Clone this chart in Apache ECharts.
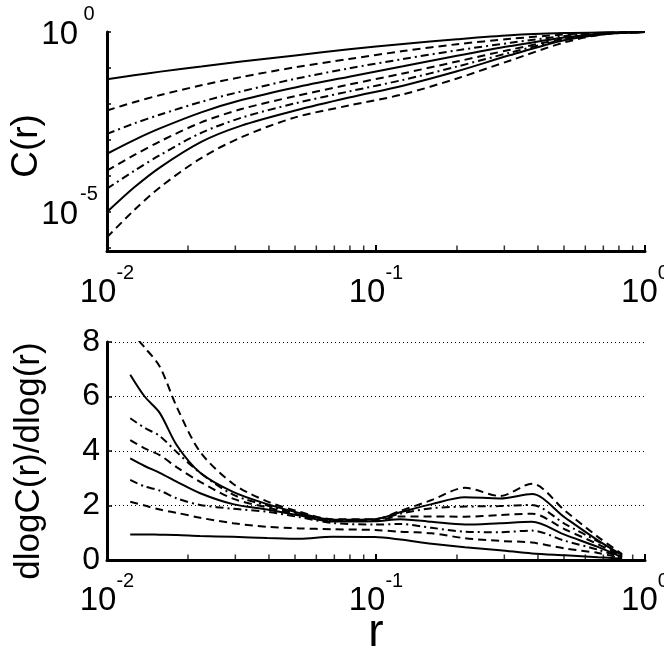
<!DOCTYPE html>
<html>
<head>
<meta charset="utf-8">
<script src="https://cdn.jsdelivr.net/npm/echarts@6/dist/echarts.min.js"></script>
<style>
  html, body { margin: 0; padding: 0; background: #fff; }
  #chart { width: 664px; height: 655px; }
</style>
</head>
<body>
<div id="chart"></div>
<script>
// top panel: r and log10 C(r), one array per curve (top to bottom)
var rTop = [0.01, 0.0126, 0.0158, 0.0224, 0.0316, 0.0501, 0.0794, 0.126, 0.2, 0.316, 0.501, 0.708, 1];
var logC1 = [-1.31, -1.20, -1.10, -0.96, -0.82, -0.65, -0.48, -0.33, -0.20, -0.09, -0.03, -0.01, 0];
var logC2 = [-2.18, -1.95, -1.75, -1.48, -1.25, -0.98, -0.75, -0.53, -0.34, -0.19, -0.07, -0.02, 0];
var logC3 = [-2.83, -2.54, -2.29, -1.94, -1.65, -1.30, -1.01, -0.75, -0.51, -0.30, -0.11, -0.03, 0];
var logC4 = [-3.38, -3.00, -2.67, -2.23, -1.89, -1.54, -1.24, -0.95, -0.66, -0.39, -0.15, -0.04, 0];
var logC5 = [-3.85, -3.42, -3.03, -2.51, -2.14, -1.78, -1.46, -1.15, -0.82, -0.49, -0.19, -0.05, 0];
var logC6 = [-4.35, -3.86, -3.41, -2.80, -2.38, -1.98, -1.65, -1.33, -0.96, -0.57, -0.21, -0.05, 0];
var logC7 = [-5.00, -4.32, -3.75, -3.05, -2.60, -2.18, -1.82, -1.49, -1.09, -0.64, -0.23, -0.06, 0];
var logC8 = [-5.70, -4.95, -4.30, -3.50, -2.92, -2.37, -2.04, -1.73, -1.29, -0.79, -0.29, -0.06, 0];

// bottom panel: r and local slope dlogC/dlogr
var rBot = [0.0122, 0.0138, 0.0157, 0.0182, 0.0222, 0.0294, 0.0394, 0.0521, 0.0686, 0.099, 0.123, 0.161, 0.214, 0.289, 0.38, 0.505, 0.668, 0.822];
var slope1 = [0.94, 0.94, 0.93, 0.92, 0.88, 0.85, 0.81, 0.78, 0.85, 0.84, 0.75, 0.60, 0.47, 0.36, 0.24, 0.17, 0.10, 0.05];
var slope2 = [2.14, 2.00, 1.85, 1.73, 1.55, 1.35, 1.22, 1.16, 1.13, 1.10, 1.04, 0.98, 0.80, 0.70, 0.64, 0.42, 0.26, 0.06];
var slope3 = [2.94, 2.70, 2.55, 2.26, 2.02, 1.88, 1.77, 1.57, 1.36, 1.30, 1.32, 1.18, 1.04, 1.02, 1.08, 0.70, 0.38, 0.08];
var slope4 = [3.73, 3.45, 3.20, 2.87, 2.45, 2.05, 1.85, 1.63, 1.41, 1.42, 1.50, 1.40, 1.30, 1.35, 1.40, 0.92, 0.48, 0.10];
var slope5 = [4.40, 4.10, 3.85, 3.40, 2.87, 2.25, 1.93, 1.66, 1.44, 1.45, 1.60, 1.60, 1.59, 1.65, 1.70, 1.12, 0.58, 0.12];
var slope6 = [5.20, 4.85, 4.55, 3.95, 3.20, 2.40, 2.00, 1.70, 1.46, 1.48, 1.70, 1.90, 1.96, 1.98, 2.02, 1.32, 0.68, 0.15];
var slope7 = [6.80, 6.00, 5.40, 4.20, 3.20, 2.50, 2.05, 1.72, 1.48, 1.50, 1.75, 2.05, 2.30, 2.26, 2.42, 1.55, 0.72, 0.18];
var slope8 = [8.40, 7.80, 7.10, 5.60, 3.97, 2.80, 2.15, 1.77, 1.50, 1.50, 1.80, 2.20, 2.65, 2.35, 2.80, 1.80, 0.85, 0.22];

// minor tick positions on the r axis
var rMinor = [0.02, 0.03, 0.04, 0.05, 0.06, 0.07, 0.08, 0.09, 0.2, 0.3, 0.4, 0.5, 0.6, 0.7, 0.8, 0.9];

var topCurves = [logC1, logC2, logC3, logC4, logC5, logC6, logC7, logC8];
var botCurves = [slope1, slope2, slope3, slope4, slope5, slope6, slope7, slope8];
var dashes = ['solid', [8, 5], [8, 4, 2, 4]];

var FONT = 'Liberation Sans';
var yMinTop = Math.pow(10, -6.08);

var powRich = {
  b: { fontFamily: FONT, fontSize: 33, lineHeight: 46, verticalAlign: 'bottom', color: '#000' },
  s: { fontFamily: FONT, fontSize: 20, lineHeight: 20, verticalAlign: 'top', color: '#000' }
};
var yRich = {
  b: { fontFamily: FONT, fontSize: 33, lineHeight: 47, verticalAlign: 'bottom', color: '#000' },
  s: { fontFamily: FONT, fontSize: 20, lineHeight: 20, verticalAlign: 'top', width: 22, align: 'left', color: '#000' }
};

function powLabel(v) {
  var e = Math.round(Math.log10(v));
  return '{b|10}{s|' + e + '}';
}

function xAxisCfg(idx) {
  return {
    type: 'log', gridIndex: idx, min: 0.01, max: 1, logBase: 10,
    axisLine: { lineStyle: { color: '#000', width: 3 } },
    axisTick: { inside: true, length: 6, lineStyle: { color: '#000', width: 2 } },
    splitLine: { show: false },
    axisLabel: { margin: idx === 0 ? 12 : 11, formatter: powLabel, rich: powRich },
    name: idx === 1 ? 'r' : '',
    nameLocation: 'middle', nameGap: 50, nameMoveOverlap: false,
    nameTextStyle: { fontFamily: FONT, fontSize: 46, color: '#000' }
  };
}

var series = [];
topCurves.forEach(function (c, i) {
  series.push({
    type: 'line', xAxisIndex: 0, yAxisIndex: 0, symbol: 'none', smooth: 0.3,
    lineStyle: { color: '#000', width: 2, type: dashes[i % 3] },
    data: rTop.map(function (r, k) { return [r, Math.pow(10, c[k])]; })
  });
});
botCurves.forEach(function (c, i) {
  series.push({
    type: 'line', xAxisIndex: 1, yAxisIndex: 1, symbol: 'none', smooth: 0.3,
    lineStyle: { color: '#000', width: 2, type: dashes[i % 3] },
    data: rBot.map(function (r, k) { return [r, c[k]]; })
  });
});
// minor ticks along both r axes
[[0, 0, yMinTop], [1, 1, 0]].forEach(function (g) {
  series.push({
    type: 'scatter', xAxisIndex: g[0], yAxisIndex: g[1], symbol: 'rect',
    symbolSize: [1.5, 5], symbolOffset: [0, -3], silent: true,
    itemStyle: { color: '#000' },
    data: rMinor.map(function (r) { return [r, g[2]]; })
  });
});

var chart = echarts.init(document.getElementById('chart'), null, { renderer: 'canvas' });
chart.setOption({
  animation: false,
  backgroundColor: '#fff',
  grid: [
    { left: 107, top: 32, width: 538, height: 219, outerBoundsMode: 'none', containLabel: false },
    { left: 107, top: 342, width: 538, height: 218, outerBoundsMode: 'none', containLabel: false }
  ],
  xAxis: [xAxisCfg(0), xAxisCfg(1)],
  yAxis: [
    {
      type: 'log', gridIndex: 0, min: yMinTop, max: 1, logBase: 10,
      axisLine: { lineStyle: { color: '#000', width: 3 } },
      axisTick: { inside: true, length: 4, lineStyle: { color: '#000', width: 1.5 } },
      splitLine: { show: false },
      axisLabel: {
        margin: 7, rich: yRich, padding: [0, 0, 8, 0],
        formatter: function (v) {
          var e = Math.round(Math.log10(v));
          if (Math.abs(Math.log10(v) - e) > 0.01) return '';
          return (e === 0 || e === -5) ? '{b|10}{s|' + e + '}' : '';
        }
      },
      name: 'C(r)', nameLocation: 'middle', nameGap: 62, nameMoveOverlap: false,
      nameTextStyle: { fontFamily: FONT, fontSize: 37, color: '#000', padding: [0, 9, 0, 0] }
    },
    {
      type: 'value', gridIndex: 1, min: 0, max: 8, interval: 2,
      axisLine: { show: true, lineStyle: { color: '#000', width: 3 } },
      axisTick: { show: true, inside: true, length: 5, lineStyle: { color: '#000', width: 1.5 } },
      splitLine: { show: true, lineStyle: { color: '#000', width: 1, type: [1, 3] } },
      axisLabel: { margin: 7, fontFamily: FONT, fontSize: 32, color: '#000' },
      name: 'dlogC(r)/dlog(r)', nameLocation: 'middle', nameGap: 60, nameMoveOverlap: false,
      nameTextStyle: { fontFamily: FONT, fontSize: 35, color: '#000', padding: [0, 20, 0, 0] }
    }
  ],
  series: series
});
</script>
</body>
</html>
